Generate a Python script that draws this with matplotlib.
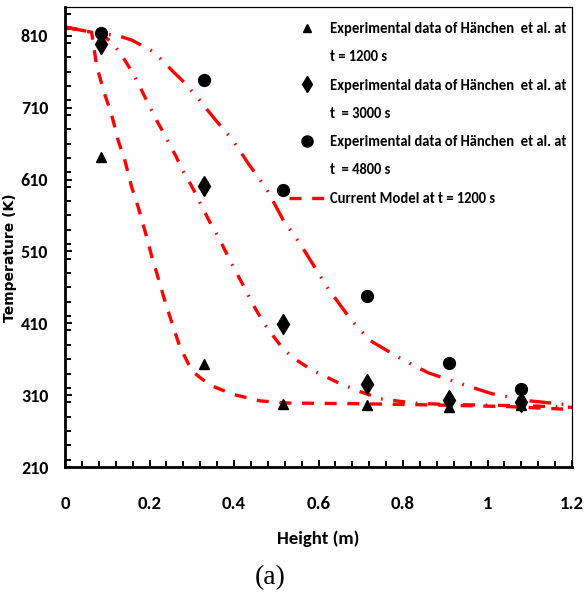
import numpy as np
import matplotlib
matplotlib.use('Agg')
import matplotlib.pyplot as plt
from matplotlib.lines import Line2D
from matplotlib.ticker import MultipleLocator

plt.rcParams['font.family'] = ['Carlito', 'Lato', 'DejaVu Sans']
plt.rcParams['font.weight'] = 'bold'

# measured temperatures (Hanchen et al.)
exp_height = [0.085, 0.329, 0.515, 0.714, 0.908, 1.080]
exp_1200 = [642, 353, 298, 296, 294, 296]
exp_3000 = [799, 601, 409, 326, 303, 301]
exp_4800 = [814, 748, 596, 448, 355, 319]

# model curves
h_1200 = [0.0, 0.063, 0.075, 0.091, 0.11, 0.126, 0.142, 0.158, 0.173, 0.189, 0.205,
          0.221, 0.237, 0.255, 0.272, 0.296, 0.312, 0.343, 0.398, 0.462, 0.525,
          0.7, 0.9, 1.05, 1.2]
T_1200 = [822, 815, 768, 734, 701, 664, 636, 599, 572, 539, 504,
          472, 440, 407, 377, 349, 338, 324, 311, 302, 299,
          298, 296, 294, 290]

h_3000 = [0.0, 0.063, 0.091, 0.11, 0.132, 0.15, 0.166, 0.179, 0.193, 0.205, 0.219,
          0.237, 0.249, 0.263, 0.276, 0.292, 0.305, 0.32, 0.347, 0.363, 0.375,
          0.389, 0.405, 0.418, 0.432, 0.446, 0.46, 0.477, 0.497, 0.513, 0.537,
          0.584, 0.651, 0.698, 0.746, 0.824, 0.9, 1.0, 1.1, 1.2]
T_3000 = [822, 815, 810, 801, 785, 768, 752, 737, 720, 706, 690,
          671, 657, 642, 625, 609, 595, 577, 546, 530, 516,
          499, 481, 467, 451, 435, 421, 405, 389, 377, 363,
          345, 326, 315, 305, 299, 297, 296, 295, 293]

h_4800 = [0.0, 0.063, 0.1, 0.126, 0.158, 0.209, 0.233, 0.256, 0.279, 0.318, 0.338,
          0.359, 0.398, 0.434, 0.477, 0.517, 0.556, 0.588, 0.623, 0.678, 0.722,
          0.80, 0.86, 0.947, 1.01, 1.10, 1.167, 1.2]
T_4800 = [822, 815, 812, 810, 804, 788, 774, 760, 747, 721, 706,
          691, 664, 632, 597, 553, 521, 491, 458, 414, 386,
          359, 341, 324, 312, 302, 298, 296]

x_ticks = [0, 0.2, 0.4, 0.6, 0.8, 1.0, 1.2]
x_ticklabels = ['0', '0.2', '0.4', '0.6', '0.8', '1', '1.2']
y_ticks = [210, 310, 410, 510, 610, 710, 810]

exp_label = 'Experimental data of H\u00e4nchen  et al. at'

fig = plt.figure(figsize=(5.84, 6.0), dpi=100)
ax = fig.add_axes([65/584, 1 - 467/600, (572 - 65)/584, (467 - 7)/600])

red = '#ff0000'
ax.plot(h_1200, T_1200, color=red, lw=2.4, dashes=(3.6, 3.2))
ax.plot(h_3000, T_3000, color=red, lw=2.4, dashes=(3.6, 3.2, 0.5, 3.2))
ax.plot(h_4800, T_4800, color=red, lw=2.4, dashes=(6.5, 3.2, 0.5, 3.2, 0.5, 3.2))

ax.plot(exp_height, exp_1200, ls='none', marker='^', ms=7, color='black')
ax.plot(exp_height, exp_3000, ls='none', marker='d', ms=10.5, color='black')
ax.plot(exp_height, exp_4800, ls='none', marker='o', ms=8.5, color='black')

ax.set_xlim(0, 1.2)
ax.set_ylim(210, 850)
ax.set_xticks(x_ticks)
ax.set_xticklabels(x_ticklabels)
ax.xaxis.set_minor_locator(MultipleLocator(0.04))
ax.set_yticks(y_ticks)
ax.yaxis.set_minor_locator(MultipleLocator(20))

ax.tick_params(which='both', direction='in', top=False, right=False, width=1.4)
ax.tick_params(which='major', length=5)
ax.tick_params(which='minor', length=4)
ax.tick_params(axis='x', which='major', pad=21, labelsize=13.5)
ax.tick_params(axis='y', which='major', pad=12, labelsize=13)
for lab in ax.get_xticklabels() + ax.get_yticklabels():
    lab.set_fontweight('bold')

for side in ['left', 'bottom']:
    ax.spines[side].set_linewidth(2.0)
for side in ['top', 'right']:
    ax.spines[side].set_linewidth(0.9)

ax.set_xlabel('Height (m)', fontsize=13.5, fontweight='bold')
ax.xaxis.set_label_coords(0.5, -0.138)
ax.set_ylabel('Temperature (K)', fontsize=10, fontweight='bold', family='DejaVu Sans')
ax.yaxis.set_label_coords(-0.095, 0.456)

blank = Line2D([], [], ls='none')
handles = [Line2D([], [], ls='none', marker='^', ms=6, color='black'), blank,
           Line2D([], [], ls='none', marker='d', ms=8.5, color='black'), blank,
           Line2D([], [], ls='none', marker='o', ms=8, color='black'), blank,
           Line2D([], [], color=red, lw=2.4, dashes=(3.6, 3.2))]
labels = [exp_label, 't = 1200 s', exp_label, 't  = 3000 s', exp_label, 't  = 4800 s',
          'Current Model at t = 1200 s']
fig.legend(handles, labels, loc='upper left', bbox_to_anchor=(289/584, 1 - 22/600),
           frameon=False, handlelength=2.5, handletextpad=0.3,
           labelspacing=0.98, borderpad=0, borderaxespad=0,
           prop={'weight': 'bold', 'size': 10.5})

fig.text(270/584, 1 - 578/600, '(a)', ha='center', va='center',
         family='Liberation Serif', fontweight='normal', fontsize=20)

fig.savefig('out.png', dpi=100)
